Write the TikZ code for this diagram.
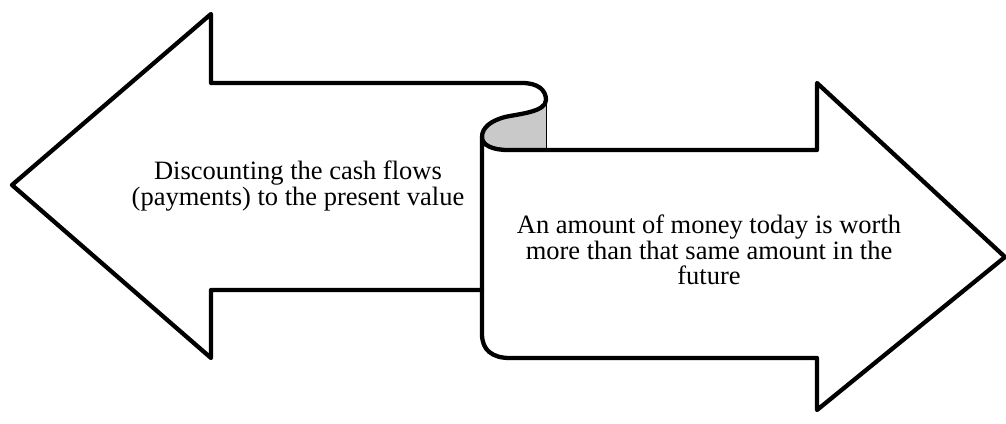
\documentclass[tikz,border=0pt]{standalone}
\usepackage{fontspec}
\setmainfont{Liberation Serif}
\begin{document}
\begin{tikzpicture}[x=1pt,y=-1pt,
  outline/.style={line width=4.3pt,line join=round,line cap=round,draw=black},
  label/.style={align=center,font=\fontsize{26.5}{25.5}\selectfont,inner sep=0pt}]
\useasboundingbox (0,0) rectangle (1006,423);
% named corner points
\coordinate (ltip) at (12,185);
\coordinate (lht) at (211,14);
\coordinate (lhb) at (211,358);
\coordinate (lst) at (211,83);
\coordinate (lsb) at (211,290);
\coordinate (curlA) at (522,83);
\coordinate (curlB) at (546,100);
\coordinate (curlC) at (482,137);
\coordinate (curlD) at (546,150);
\coordinate (joinB) at (482,290);
\coordinate (rbl) at (482,334);
\coordinate (rbc) at (510,358);
\coordinate (rhb) at (817,410);
\coordinate (rtip) at (1005,257);
\coordinate (rht) at (817,83);
\coordinate (rst) at (817,150);
\coordinate (rsb) at (817,358);
% gray curl fill
\fill[black!21] (curlB) .. controls (546,112) and (518,114) .. (505,117)
  .. controls (490,121) and (482,128) .. (curlC)
  .. controls (482,145) and (492,150) .. (508,150) -- (curlD) -- cycle;
\draw[line width=1pt] (curlB) -- (curlD);
% left arrow
\draw[outline] (joinB) -- (lsb) -- (lhb) -- (ltip) -- (lht) -- (lst) -- (curlA)
  .. controls (538,83) and (546,90) .. (curlB)
  .. controls (546,112) and (518,114) .. (505,117)
  .. controls (490,121) and (482,128) .. (curlC);
% right arrow
\draw[outline] (curlC) -- (rbl) .. controls (482,350) and (492,358) .. (rbc)
  -- (rsb) -- (rhb) -- (rtip) -- (rht) -- (rst) -- (curlD) -- (508,150)
  .. controls (492,150) and (482,145) .. (curlC);
% texts
\node[label] (lefttext) at (298,186) {Discounting the cash flows\\(payments) to the present value};
\node[label] (righttext) at (709,250) {An amount of money today is worth\\more than that same amount in the\\future};
\end{tikzpicture}
\end{document}
